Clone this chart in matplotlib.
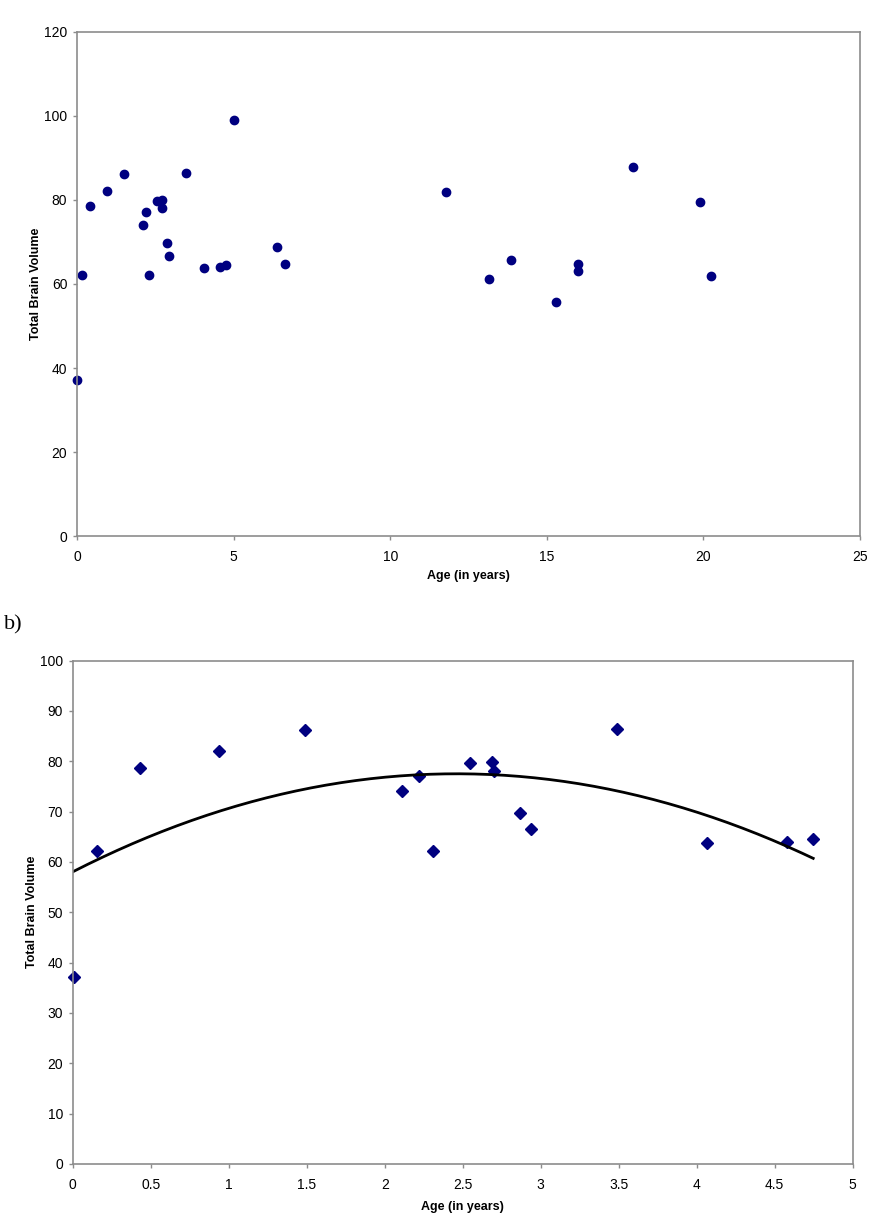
import numpy as np
import matplotlib
matplotlib.use("Agg")
import matplotlib.pyplot as plt

# -----------------------------
# DATA
# -----------------------------
# a) all subjects
age_all = [0.0, 0.16, 0.43, 0.95, 1.49, 2.11, 2.21, 2.31, 2.54, 2.70, 2.70,
           2.87, 2.95, 3.49, 4.07, 4.58, 4.75, 5.00, 6.40, 6.64,
           11.77, 13.17, 13.85, 15.28, 16.00, 16.00, 17.75, 19.90, 20.24]
vol_all = [37.1, 62.2, 78.6, 82.1, 86.3, 74.1, 77.1, 62.2, 79.7, 79.9, 78.0,
           69.7, 66.6, 86.5, 63.8, 64.0, 64.6, 99.0, 68.9, 64.7,
           82.0, 61.3, 65.6, 55.7, 64.8, 63.1, 87.9, 79.5, 61.9]

# b) subjects under 5 years
age_young = [0.01, 0.158, 0.429, 0.938, 1.489, 2.109, 2.220, 2.308, 2.547,
             2.690, 2.701, 2.869, 2.940, 3.489, 4.068, 4.577, 4.747]
vol_young = [37.1, 62.2, 78.6, 82.1, 86.3, 74.1, 77.1, 62.2, 79.7,
             79.9, 78.0, 69.7, 66.6, 86.5, 63.8, 64.0, 64.6]

x_ticks_a = [0, 5, 10, 15, 20, 25]
y_ticks_a = [0, 20, 40, 60, 80, 100, 120]
x_ticks_b = [0, 0.5, 1, 1.5, 2, 2.5, 3, 3.5, 4, 4.5, 5]
y_ticks_b = [0, 10, 20, 30, 40, 50, 60, 70, 80, 90, 100]

plt.rcParams["font.family"] = ["Liberation Sans", "DejaVu Sans"]

navy = "#000080"
frame = "#8c8c8c"

fig = plt.figure(figsize=(8.7, 12.16), dpi=100)


def style_axes(ax):
    for s in ax.spines.values():
        s.set_color(frame)
        s.set_linewidth(1.2)
    ax.tick_params(direction="out", length=3, width=1, color=frame,
                   labelsize=10, pad=4, top=False, right=False)
    ax.tick_params(axis="x", pad=7)
    ax.set_xlabel("Age (in years)", fontsize=9, fontweight="bold", labelpad=4.5)
    ax.set_ylabel("Total Brain Volume", fontsize=9, fontweight="bold")


# -----------------------------
# a) SCATTER ALL AGES
# -----------------------------
ax1 = fig.add_axes([0.0885, 0.5592, 0.9, 0.4145])
ax1.plot(age_all, vol_all, "o", color=navy, markersize=6, clip_on=False)
ax1.set_xlim(0, 25)
ax1.set_ylim(0, 120)
ax1.set_xticks(x_ticks_a)
ax1.set_yticks(y_ticks_a)
style_axes(ax1)
ax1.yaxis.labelpad = 1.5

# -----------------------------
# b) UNDER 5 WITH QUADRATIC TREND
# -----------------------------
ax2 = fig.add_axes([0.0836, 0.0428, 0.8965, 0.4139])
ax2.plot(age_young, vol_young, "D", color=navy, markersize=6, clip_on=False)
coef = np.polyfit(age_young, vol_young, 2)
xs = np.linspace(0, max(age_young), 200)
ax2.plot(xs, np.polyval(coef, xs), color="black", linewidth=2)
ax2.set_xlim(0, 5)
ax2.set_ylim(0, 100)
ax2.set_xticks(x_ticks_b)
ax2.set_xticklabels([f"{t:g}" for t in x_ticks_b])
ax2.set_yticks(y_ticks_b)
style_axes(ax2)
ax2.yaxis.labelpad = 1.5
ax2.xaxis.labelpad = 6.5

fig.text(0.005, 0.486, "b)", fontsize=16, family="Liberation Serif",
         va="center", ha="left")

fig.savefig("out.png", dpi=100)
